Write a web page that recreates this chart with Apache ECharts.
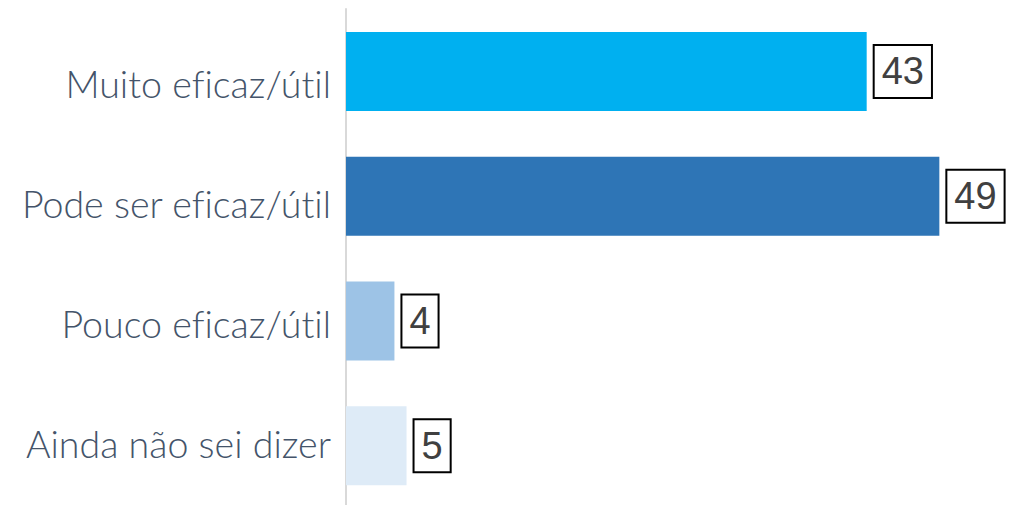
<!DOCTYPE html>
<html>
<head>
<meta charset="utf-8">
<script src="https://cdn.jsdelivr.net/npm/echarts@6/dist/echarts.min.js"></script>
<style>
  html, body { margin: 0; padding: 0; background: #fff; }
  #chart { width: 1012px; height: 505px; }
  #chart text { font-variant-ligatures: none; }
</style>
</head>
<body>
<div id="chart"></div>
<script>
// dados
const categories = ['Muito eficaz/útil', 'Pode ser eficaz/útil', 'Pouco eficaz/útil', 'Ainda não sei dizer']
const values = [43, 49, 4, 5]
const barColors = ['#00B0F0', '#2E75B6', '#9DC3E6', '#DEEBF7']

const chart = echarts.init(document.getElementById('chart'), null, { renderer: 'svg' })

chart.setOption({
  animation: false,
  // grid 0: barras, grid 1: só os rótulos das categorias
  grid: [
    { left: 346, right: 0, top: 9, bottom: -3, outerBoundsMode: 'none' },
    { left: 346, right: 0, top: 23, bottom: 2, outerBoundsMode: 'none' },
  ],
  xAxis: [
    { gridIndex: 0, type: 'value', min: 0, max: 55, show: false },
    { gridIndex: 1, type: 'value', min: 0, max: 55, show: false },
  ],
  yAxis: [
    {
      gridIndex: 0,
      type: 'category',
      inverse: true,
      data: categories,
      axisLine: { show: true, lineStyle: { color: '#D9D9D9', width: 2 } },
      axisTick: { show: false },
      axisLabel: { show: false },
    },
    {
      gridIndex: 1,
      type: 'category',
      inverse: true,
      data: categories,
      axisLine: { show: false },
      axisTick: { show: false },
      axisLabel: {
        margin: 15,
        fontFamily: 'Lato',
        fontWeight: 300,
        fontSize: 37.6,
        color: '#44546A',
      },
    },
  ],
  series: [
    {
      type: 'bar',
      xAxisIndex: 0,
      yAxisIndex: 0,
      barWidth: 79,
      data: values.map((v, i) => ({ value: v, itemStyle: { color: barColors[i] } })),
      label: {
        show: true,
        position: 'right',
        distance: 8,
        fontFamily: 'Liberation Sans',
        fontSize: 38,
        lineHeight: 40,
        color: '#404040',
        borderColor: '#000',
        borderWidth: 2,
        padding: [7, 7, 4, 7],
        backgroundColor: '#fff',
      },
    },
  ],
})
</script>
</body>
</html>
